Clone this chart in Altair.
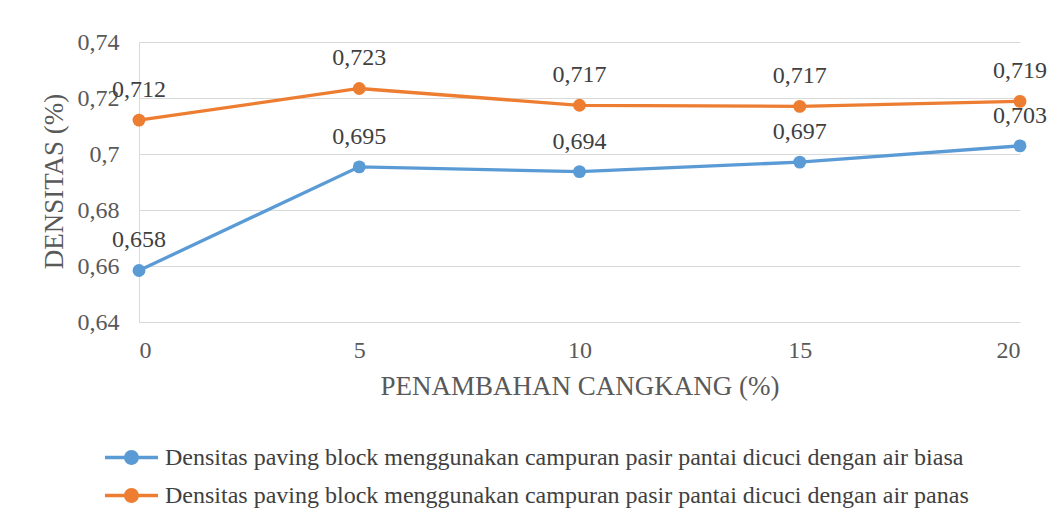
import altair as alt
import pandas as pd

x_vals = [0, 5, 10, 15, 20]
series_names = [
    "Densitas paving block menggunakan campuran pasir pantai dicuci dengan air biasa",
    "Densitas paving block menggunakan campuran pasir pantai dicuci dengan air panas",
]
biasa = [0.6584, 0.6954, 0.6937, 0.6971, 0.7029]
panas = [0.7121, 0.7234, 0.7174, 0.7170, 0.7188]
y_ticks = [0.64, 0.66, 0.68, 0.70, 0.72, 0.74]
colors = ["#5B9BD5", "#ED7D31"]

rows = []
for name, vals in zip(series_names, [biasa, panas]):
    for xv, yv in zip(x_vals, vals):
        rows.append({"x": xv, "y": yv, "series": name,
                     "label": f"{yv:.3f}".replace(".", ",")})
df = pd.DataFrame(rows)

FONT = "Liberation Serif"
sdom = series_names

base = alt.Chart(df).encode(
    x=alt.X("x:Q", scale=alt.Scale(domain=[0, 20], nice=False),
            axis=alt.Axis(values=x_vals, format="d", title="PENAMBAHAN CANGKANG (%)",
                          grid=False, ticks=False, labelPadding=16,
                          domainColor="#D9D9D9", titleY=64, titleBaseline="middle")),
    y=alt.Y("y:Q", scale=alt.Scale(domain=[0.64, 0.74], nice=False, zero=False),
            axis=alt.Axis(values=y_ticks, title="DENSITAS (%)", ticks=False,
                          labelPadding=20, domainColor="#D9D9D9",
                          labelExpr="replace(format(datum.value, '.2~f'), '.', ',')",
                          titleX=-85, titleY=139, titleAngle=-90,
                          titleAlign="center", titleBaseline="middle")),
)

# stroke scale uses data-derived domain (sorted) so it does not merge with the colour legend
lines = base.mark_line(strokeWidth=3.3).encode(
    stroke=alt.Stroke("series:N", scale=alt.Scale(range=colors), legend=None)
)

sym = ("M-2,-0.125H-0.4V0.125H-2Z M0.4,-0.125H2V0.125H0.4Z "
       "M0.56,0 A0.56,0.56 0 1,1 -0.56,0 A0.56,0.56 0 1,1 0.56,0Z")

points = base.mark_point(filled=True, size=165, opacity=1).encode(
    color=alt.Color("series:N", scale=alt.Scale(domain=sdom, range=colors),
                    legend=alt.Legend(title=None, orient="none", legendX=-21, legendY=402,
                                      direction="vertical", symbolType=sym, symbolSize=702,
                                      symbolStrokeWidth=0, labelOffset=20, rowPadding=12,
                                      labelFont=FONT, labelFontSize=24, labelColor="#404040",
                                      labelLimit=1000))
)

texts = base.mark_text(dy=-30, fontSize=24, font=FONT, color="#404040").encode(
    text="label:N"
)

chart = alt.layer(lines, points, texts).properties(
    width=881, height=280,
    autosize=alt.AutoSizeParams(type="none"),
    padding={"left": 131, "top": 34, "right": 32, "bottom": 186},
).configure_view(stroke=None).configure_axis(
    labelFont=FONT, titleFont=FONT, labelFontSize=24, titleFontSize=27,
    labelColor="#595959", titleColor="#595959", titleFontWeight="normal",
    gridColor="#D9D9D9", gridWidth=1,
)

chart.save("out.html", embed_options={"renderer": "svg", "actions": False})
